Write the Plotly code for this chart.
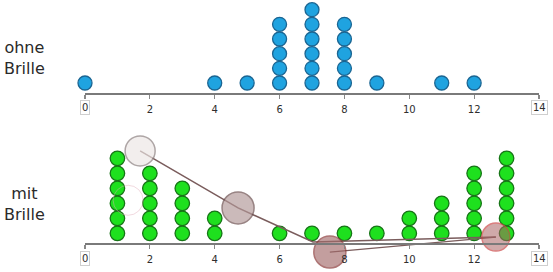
import plotly.graph_objects as go

# ---- data ----
ohne_x = [0, 4, 5, 6, 7, 8, 9, 11, 12]
ohne_n = [1, 1, 1, 5, 6, 5, 1, 1, 1]
mit_x = [1, 2, 3, 4, 6, 7, 8, 9, 10, 11, 12, 13]
mit_n = [6, 5, 4, 2, 1, 1, 1, 1, 2, 3, 5, 6]
tick_vals = [0, 2, 4, 6, 8, 10, 12, 14]
tick_text = ["", "2", "4", "6", "8", "10", "12", ""]

# hand-drawn pointer overlay (approximate)
path_x = [1.70, 4.72, 7.03, 12.67]
path_y = [6.49, 2.69, 0.42, 0.75]
path2_x = [7.55, 12.67]
path2_y = [-0.25, 0.75]
circ_x = [1.70, 4.72, 7.55, 12.67]
circ_y = [6.49, 2.69, -0.25, 0.75]
circ_fill = ["rgba(236,231,229,0.95)", "rgba(178,152,152,0.95)",
             "rgba(163,106,106,0.92)", "rgba(170,100,100,0.78)"]
circ_line = ["#8c8080", "#6d5050", "#8b3a3a", "#cc4848"]
circ_size = [30, 32, 32, 28]
ghost_x = [1.33]
ghost_y = [3.2]


def stack(xs, ns):
    px, py = [], []
    for x, n in zip(xs, ns):
        for k in range(1, n + 1):
            px.append(x)
            py.append(k)
    return px, py


fig = go.Figure()

tx, ty = stack(ohne_x, ohne_n)
fig.add_trace(go.Scatter(
    x=tx, y=ty, mode="markers", xaxis="x", yaxis="y", cliponaxis=False,
    marker=dict(size=14, color="#1fa3e0", line=dict(color="#1b6592", width=1.3)),
    hoverinfo="skip"))

bx, by = stack(mit_x, mit_n)
fig.add_trace(go.Scatter(
    x=bx, y=by, mode="markers", xaxis="x2", yaxis="y2", cliponaxis=False,
    marker=dict(size=14.5, color="#1ee01e", line=dict(color="#177417", width=1.3)),
    hoverinfo="skip"))

fig.add_trace(go.Scatter(
    x=ghost_x, y=ghost_y, mode="markers", xaxis="x2", yaxis="y2",
    marker=dict(size=30, color="rgba(0,0,0,0)",
                line=dict(color="rgba(225,170,185,0.45)", width=1)),
    hoverinfo="skip"))

fig.add_trace(go.Scatter(
    x=path_x, y=path_y, mode="lines", xaxis="x2", yaxis="y2",
    line=dict(color="#7a5c5c", width=1.5), hoverinfo="skip"))
fig.add_trace(go.Scatter(
    x=path2_x, y=path2_y, mode="lines", xaxis="x2", yaxis="y2",
    line=dict(color="#7a5c5c", width=1.3), hoverinfo="skip"))

fig.add_trace(go.Scatter(
    x=circ_x, y=circ_y, mode="markers", xaxis="x2", yaxis="y2", cliponaxis=False,
    marker=dict(size=circ_size, color=circ_fill, line=dict(color=circ_line, width=1.5)),
    hoverinfo="skip"))

axis_common = dict(
    domain=[85 / 553, 539 / 553], range=[0, 14], tickvals=tick_vals, ticktext=tick_text,
    ticks="outside", ticklen=4, tickwidth=1.2, tickcolor="#888888",
    showline=True, linecolor="#7a7a7a", linewidth=1.8,
    showgrid=False, zeroline=False, fixedrange=True, ticklabelstandoff=2,
    tickfont=dict(family="DejaVu Sans", size=10, color="#2e2e2e"))

top_axis_pos = 1 - 93 / 272
bot_axis_pos = 1 - 243 / 272

fig.update_layout(
    width=553, height=272, margin=dict(l=0, r=0, t=0, b=0),
    paper_bgcolor="white", plot_bgcolor="white", showlegend=False,
    xaxis=dict(anchor="y", **axis_common),
    yaxis=dict(domain=[top_axis_pos, 1], range=[0.318, 6.658], visible=False, fixedrange=True),
    xaxis2=dict(anchor="free", position=bot_axis_pos, **axis_common),
    yaxis2=dict(domain=[0, 1 - 130 / 272], range=[-1.58, 7.887], visible=False, fixedrange=True),
)

ann = []
for pos, shift in [(top_axis_pos, -14), (bot_axis_pos, -15)]:
    for v, t in [(0, "0"), (14, "14")]:
        ann.append(dict(x=v, xref="x", y=pos, yref="paper", yanchor="middle", yshift=shift,
                        text=t, showarrow=False, bordercolor="#cfcfcf", borderwidth=1,
                        borderpad=1, bgcolor="white",
                        font=dict(family="DejaVu Sans", size=10, color="#2e2e2e")))
ann.append(dict(x=24 / 553, xref="paper", y=1 - 58 / 272, yref="paper", text="ohne<br>Brille",
                showarrow=False, align="center", xanchor="center", yanchor="middle",
                font=dict(family="DejaVu Sans", size=16, color="#2a2a2a")))
ann.append(dict(x=24 / 553, xref="paper", y=1 - 203.5 / 272, yref="paper", text="mit<br>Brille",
                showarrow=False, align="center", xanchor="center", yanchor="middle",
                font=dict(family="DejaVu Sans", size=16, color="#2a2a2a")))
fig.update_layout(annotations=ann)

fig.write_html("out.html", config={"displayModeBar": False, "staticPlot": True},
               post_script="document.body.style.margin='0';")
